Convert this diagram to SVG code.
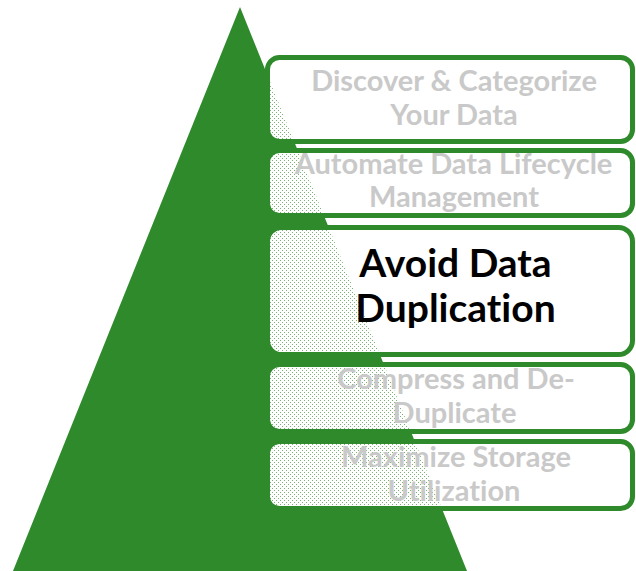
<svg xmlns="http://www.w3.org/2000/svg" width="636" height="571" viewBox="0 0 636 571">
<defs>
<pattern id="dots" width="4" height="4" patternUnits="userSpaceOnUse">
<path d="M0 0h4v4h-4z M0 0v1h1v-1z M2 2v1h1v-1z" fill="#ffffff" fill-rule="evenodd"/>
<path d="M0 0h1v1h-1z M2 2h1v1h-1z" fill="#ffffff" fill-opacity="0.35"/>
</pattern>
<style>
.box{fill:url(#dots);stroke:#2f8a2b;stroke-width:5}
.t{font-family:Lato,"Liberation Sans",sans-serif;font-weight:bold;text-anchor:middle;font-variant-ligatures:none}
.g{fill:#c9c9c9;font-size:29px}
.m{fill:#000000;font-size:39px}
</style>
</defs>
<rect width="636" height="571" fill="#ffffff"/>
<g id="pyramid">
<polygon points="240,7 467,571 13,571" fill="#2f8a2b"/>
</g>
<g id="node1">
<rect class="box" x="267.5" y="57.5" width="365" height="84" rx="12"/>
<text class="t g" x="454" y="91">Discover &amp; Categorize</text>
<text class="t g" x="454" y="124.5">Your Data</text>
</g>
<g id="node2">
<rect class="box" x="267.5" y="150.5" width="365" height="65" rx="12"/>
<text class="t g" x="453.5" y="173.5">Automate Data Lifecycle</text>
<text class="t g" x="454" y="207">Management</text>
</g>
<g id="node3">
<rect class="box" x="267.5" y="227.5" width="365" height="127" rx="14"/>
<text class="t m" x="455.5" y="277">Avoid Data</text>
<text class="t m" x="455.5" y="322">Duplication</text>
</g>
<g id="node4">
<rect class="box" x="267.5" y="364.5" width="365" height="67" rx="12"/>
<text class="t g" x="456" y="388.5">Compress and De-</text>
<text class="t g" x="454.5" y="422.5">Duplicate</text>
</g>
<g id="node5">
<rect class="box" x="267.5" y="441.5" width="365" height="67" rx="12"/>
<text class="t g" x="456" y="467">Maximize Storage</text>
<text class="t g" x="454" y="500.5">Utilization</text>
</g>
</svg>
